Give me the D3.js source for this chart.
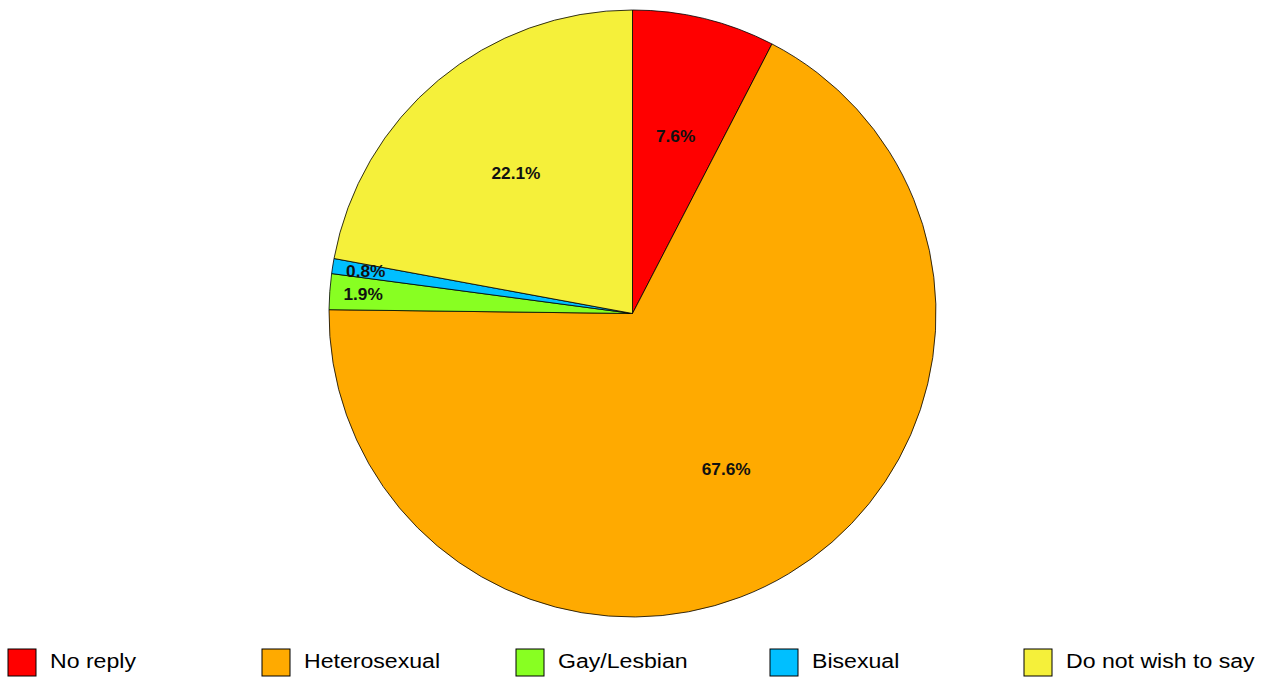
<!DOCTYPE html>
<html>
<head>
<meta charset="utf-8">
<script src="https://cdn.jsdelivr.net/npm/d3@7"></script>
<style>
  body { margin: 0; background: #fff; }
  text { font-family: "Liberation Sans", Arial, sans-serif; }
</style>
</head>
<body>
<div id="chart"></div>
<script>
// data
var categories = ["No reply", "Heterosexual", "Gay/Lesbian", "Bisexual", "Do not wish to say"];
var values = [7.6, 67.6, 1.9, 0.8, 22.1];
var colors = ["#ff0000", "#ffaa00", "#88ff22", "#00bfff", "#f5f03a"];

var width = 1272, height = 677;
var cx = 632.5, cy = 313.5, radius = 303.5;

var svg = d3.select("#chart")
  .append("svg")
  .attr("width", width)
  .attr("height", height);

var pie = d3.pie().sort(null).value(function(d) { return d; });
var arcs = pie(values);

var arc = d3.arc().innerRadius(0).outerRadius(radius);
var labelArc = d3.arc().innerRadius(radius * 0.6).outerRadius(radius * 0.6);
// tiny slices get their label pushed out near the rim
var outerLabelArc = d3.arc().innerRadius(radius * 0.89).outerRadius(radius * 0.89);

var g = svg.append("g")
  .attr("transform", "translate(" + cx + "," + cy + ")");

g.selectAll("path")
  .data(arcs)
  .enter()
  .append("path")
    .attr("d", arc)
    .style("fill", function(d, i) { return colors[i]; })
    .style("stroke", "#000")
    .style("stroke-width", 0.8);

g.selectAll(".lbl")
  .data(arcs)
  .enter()
  .append("text")
    .attr("class", "lbl")
    .attr("transform", function(d) {
      var c = d.data < 3 ? outerLabelArc.centroid(d) : labelArc.centroid(d);
      return "translate(" + c + ") scale(1.08,1)";
    })
    .attr("text-anchor", "middle")
    .attr("dy", "0.35em")
    .style("font-size", "16px")
    .style("font-weight", "bold")
    .style("fill", "#111")
    .text(function(d) { return d.data.toFixed(1) + "%"; });

// legend
var legend = svg.append("g")
  .selectAll("g")
  .data(categories)
  .enter()
  .append("g")
    .attr("transform", function(d, i) { return "translate(" + (8 + i * 254) + ",649)"; });

legend.append("rect")
  .attr("width", 28)
  .attr("height", 27)
  .style("fill", function(d, i) { return colors[i]; })
  .style("stroke", "#000")
  .style("stroke-width", 1);

legend.append("text")
  .attr("transform", "translate(42,19) scale(1.1,1)")
  .style("font-size", "21px")
  .style("fill", "#000")
  .text(function(d) { return d; });
</script>
</body>
</html>
